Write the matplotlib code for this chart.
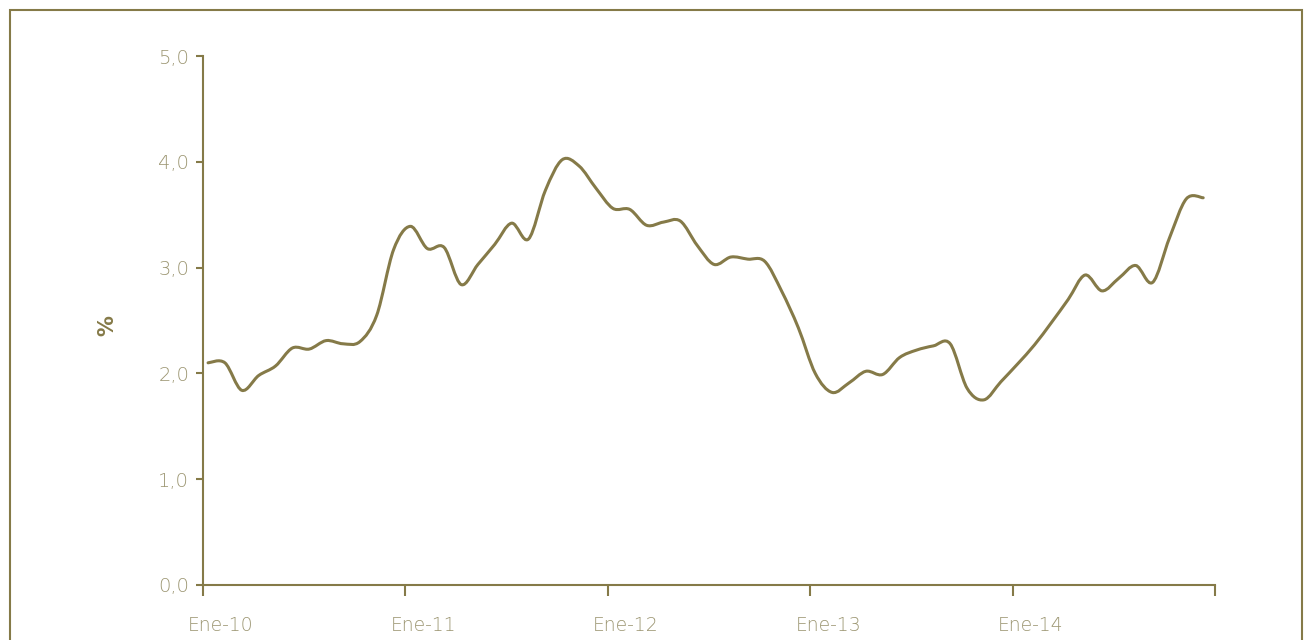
"""
Monthly % series, Ene-10 to Dic-14, drawn as a smoothed line.
"""
import numpy as np
import matplotlib
matplotlib.use("Agg")
import matplotlib.pyplot as plt
import matplotlib.transforms as mtransforms
from matplotlib.path import Path
from matplotlib.patches import PathPatch, Rectangle

# Data (one value per month, Jan 2010 .. Dec 2014)
values_2010 = [2.10, 2.10, 1.84, 1.98, 2.07, 2.24, 2.23, 2.31, 2.28, 2.30, 2.55, 3.17]
values_2011 = [3.39, 3.18, 3.19, 2.84, 3.03, 3.22, 3.42, 3.27, 3.73, 4.02, 3.96, 3.75]
values_2012 = [3.56, 3.55, 3.40, 3.43, 3.44, 3.21, 3.03, 3.10, 3.08, 3.06, 2.78, 2.43]
values_2013 = [2.00, 1.82, 1.91, 2.02, 1.99, 2.15, 2.22, 2.26, 2.28, 1.86, 1.75, 1.92]
values_2014 = [2.09, 2.27, 2.48, 2.70, 2.93, 2.78, 2.90, 3.02, 2.86, 3.28, 3.65, 3.66]
tick_labels = ["Ene-10", "Ene-11", "Ene-12", "Ene-13", "Ene-14", ""]
y_ticks = [0.0, 1.0, 2.0, 3.0, 4.0, 5.0]

values = values_2010 + values_2011 + values_2012 + values_2013 + values_2014

LINE = "#857a48"
TEXT = "#9c9672"


def smooth_path(x, y, tension=1 / 6):
    """Catmull-Rom curve through the points, as cubic Bezier segments."""
    pts = np.column_stack([x, y])
    padded = np.vstack([pts[0], pts, pts[-1]])
    verts = [pts[0]]
    codes = [Path.MOVETO]
    for i in range(len(pts) - 1):
        p0, p1, p2, p3 = padded[i], padded[i + 1], padded[i + 2], padded[i + 3]
        c1 = p1 + (p2 - p0) * tension
        c2 = p2 - (p3 - p1) * tension
        verts += [c1, c2, p2]
        codes += [Path.CURVE4] * 3
    return Path(verts, codes)


plt.rcParams["font.family"] = ["DejaVu Sans"]

fig = plt.figure(figsize=(13.05, 6.4), dpi=100)
ax = fig.add_axes([203 / 1305, 1 - 585 / 640, (1215 - 203) / 1305, (585 - 56) / 640])

x = np.arange(len(values)) + 0.3
ax.add_patch(PathPatch(smooth_path(x, values), facecolor="none", edgecolor=LINE,
                       lw=2.2, capstyle="round", joinstyle="round"))

ax.set_xlim(0, 60)
ax.set_ylim(0, 5)
ax.set_xticks(np.arange(0, 61, 12))
ax.set_xticklabels(tick_labels)
ax.set_yticks(y_ticks)
ax.set_yticklabels([f"{v:.1f}".replace(".", ",") for v in y_ticks])

for side in ["top", "right"]:
    ax.spines[side].set_visible(False)
for side in ["left", "bottom"]:
    ax.spines[side].set_color(LINE)
    ax.spines[side].set_linewidth(1.5)

ax.tick_params(axis="y", length=5, width=1.5, color=LINE, labelcolor=TEXT,
               labelsize=14, pad=5)
ax.tick_params(axis="x", length=8, width=1.5, color=LINE, labelcolor=TEXT,
               labelsize=13.5, pad=14)
shift = mtransforms.ScaledTranslation(18 / 100, 0, fig.dpi_scale_trans)
for lbl in ax.get_xticklabels():
    lbl.set_transform(lbl.get_transform() + shift)
for lbl in ax.get_xticklabels() + ax.get_yticklabels():
    lbl.set_fontweight("light")
ax.set_ylabel("%", color=LINE, fontsize=15, fontweight="bold")
ax.yaxis.set_label_coords(-0.085, 0.49)

# outer frame
fig.patches.append(Rectangle((10 / 1305, -0.1), (1302 - 10) / 1305, 1.1 - 10 / 640,
                             transform=fig.transFigure, fill=False,
                             edgecolor=LINE, lw=1.5))

fig.savefig("out.png", dpi=100)
